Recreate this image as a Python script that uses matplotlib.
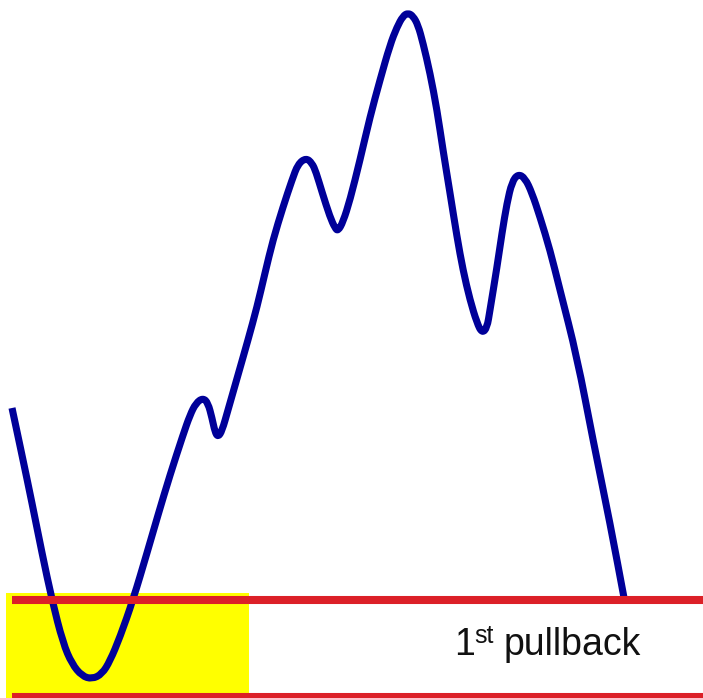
import matplotlib
matplotlib.use("Agg")
import matplotlib.pyplot as plt
from matplotlib.patches import Rectangle, PathPatch
from matplotlib.path import Path

# Price path (x position, y level measured downward from top of the chart)
path_x = [12, 22, 32, 42, 52, 63, 72, 82, 92, 102, 110, 120, 133, 147, 158, 170,
          183, 190, 196, 203, 208, 212, 215, 218, 222, 228, 238, 248, 257, 265,
          273, 283, 292, 298, 306, 312, 316, 322, 330, 335, 338, 343, 350, 360,
          370, 380, 390, 397, 403, 408, 413, 418, 423, 430, 437, 443, 450, 457,
          463, 470, 477, 482, 487, 490, 497, 502, 507, 512, 518, 525, 532, 540,
          550, 560, 577, 593, 610, 625]
path_y = [408, 455, 503, 553, 600, 643, 664, 676, 679, 674, 661, 637, 600, 553, 515, 475,
          435, 415, 403, 398, 403, 418, 432, 437, 431, 410, 375, 340, 307, 273,
          240, 207, 180, 164, 158, 163, 172, 192, 217, 228, 231, 222, 200, 160,
          117, 80, 45, 27, 16, 13, 16, 25, 43, 73, 110, 150, 193, 237,
          270, 300, 323, 333, 328, 310, 267, 233, 203, 182, 174, 178, 193, 217,
          250, 290, 357, 440, 523, 603]

# Support levels (red lines)
level_y = [600, 697]
level_x_start = 12
# Highlight zone (yellow)
zone_x = (6, 249)
zone_y = (593, 698)

W, H = 703, 698
fig = plt.figure(figsize=(W / 100, H / 100), dpi=100)
ax = fig.add_axes([0, 0, 1, 1])
ax.set_xlim(0, W)
ax.set_ylim(H, 0)
ax.axis("off")

ax.add_patch(Rectangle((zone_x[0], zone_y[0]), zone_x[1] - zone_x[0],
                       zone_y[1] - zone_y[0], facecolor="#FFFF00",
                       edgecolor="none", zorder=1))

# Smooth path: the read points act as quadratic Bezier control points
pts = list(zip(path_x, path_y))
verts = [pts[0]]
codes = [Path.MOVETO]
for i in range(1, len(pts) - 1):
    mid = ((pts[i][0] + pts[i + 1][0]) / 2, (pts[i][1] + pts[i + 1][1]) / 2)
    verts += [pts[i], mid]
    codes += [Path.CURVE3, Path.CURVE3]
verts.append(pts[-1])
codes.append(Path.LINETO)
ax.add_patch(PathPatch(Path(verts, codes), facecolor="none",
                       edgecolor="#000099", linewidth=5.1,
                       capstyle="butt", joinstyle="round", zorder=2))

for ly in level_y:
    ax.plot([level_x_start, W], [ly, ly], color="#DC2028", linewidth=5.8,
            solid_capstyle="butt", zorder=3)

font = "Liberation Sans"
ax.text(454, 655, "1", fontsize=27, family=font, color="#111111",
        ha="left", va="baseline", zorder=4)
ax.text(474, 643, "st", fontsize=18, family=font, color="#111111",
        ha="left", va="baseline", zorder=4)
ax.text(503.5, 655, "pullback", fontsize=27, family=font, color="#111111",
        ha="left", va="baseline", zorder=4)

fig.savefig("out.png", dpi=100)
